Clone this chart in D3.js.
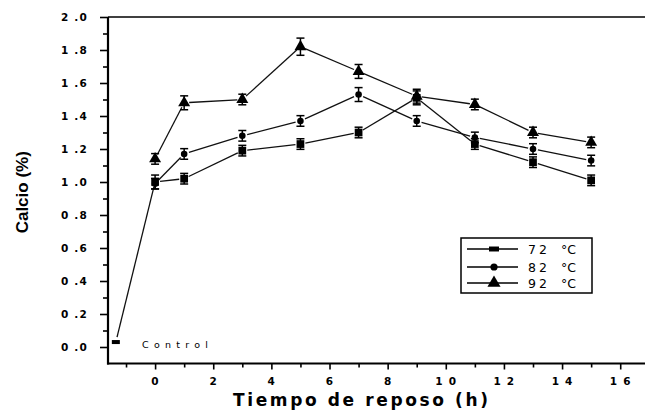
<!DOCTYPE html>
<html>
<head>
<meta charset="utf-8">
<script src="https://cdn.jsdelivr.net/npm/d3@7"></script>
<style>
  html, body { margin: 0; padding: 0; background: #fff; }
  svg { display: block; }
  text { fill: #000; }
</style>
</head>
<body>
<svg id="chart" width="645" height="411"></svg>
<script>
// Rest time (h) and calcium content (%) for three curd temperatures
const times = [0, 1, 3, 5, 7, 9, 11, 13, 15];
const calcio72 = [1.00, 1.02, 1.19, 1.23, 1.30, 1.51, 1.23, 1.12, 1.01];
const calcio82 = [0.99, 1.17, 1.28, 1.37, 1.53, 1.37, 1.27, 1.20, 1.13];
const calcio92 = [1.14, 1.48, 1.50, 1.82, 1.67, 1.52, 1.47, 1.30, 1.24];
const err72 = [0.03, 0.02, 0.02, 0.02, 0.02, 0.03, 0.02, 0.02, 0.02];
const err82 = [0.02, 0.02, 0.02, 0.02, 0.03, 0.02, 0.02, 0.02, 0.02];
const err92 = [0.02, 0.03, 0.02, 0.04, 0.03, 0.03, 0.02, 0.02, 0.02];
const seriesLabels = ["72", "82", "92"];
const controlTime = -1.35;
const controlValue = 0.03;
const controlLabel = "Control";
const yTicks = [0, 0.2, 0.4, 0.6, 0.8, 1.0, 1.2, 1.4, 1.6, 1.8, 2.0];
const yMinorTicks = [0.1, 0.3, 0.5, 0.7, 0.9, 1.1, 1.3, 1.5, 1.7, 1.9];
const xTicks = [0, 2, 4, 6, 8, 10, 12, 14, 16];
const xMinorTicks = [-1, 1, 3, 5, 7, 9, 11, 13, 15, 17];

const svg = d3.select("#chart");
const x = d3.scaleLinear().domain([-1.62, 17]).range([108, 108 + 18.62 * 29.07]);
const y = d3.scaleLinear().domain([-0.1, 2.0]).range([363.5, 17]);

const FONT = "'DejaVu Sans', sans-serif";

// --- axes ---
const yAxis = svg.append("g").attr("transform", `translate(${x.range()[0]},0)`);
yAxis.call(d3.axisLeft(y).tickValues(yTicks).tickSize(8).tickPadding(12)
  .tickFormat(d => d.toFixed(1).replace(".", " .")));
yAxis.append("g").call(d3.axisLeft(y).tickValues(yMinorTicks).tickSize(5).tickFormat(""))
  .select(".domain").remove();
yAxis.selectAll(".domain").remove();
yAxis.selectAll(".tick line").attr("stroke", "#000").attr("stroke-width", 1.6);
yAxis.selectAll(".tick text")
  .attr("font-family", FONT).attr("font-weight", "bold").attr("font-size", 10.5)
  .attr("letter-spacing", 1.2);

const xAxis = svg.append("g").attr("transform", `translate(0,${y(-0.1)})`);
xAxis.call(d3.axisBottom(x).tickValues(xTicks).tickSize(6).tickPadding(8)
  .tickFormat(d => String(d).split("").join(" ")));
xAxis.append("g").call(d3.axisBottom(x).tickValues(xMinorTicks).tickSize(4).tickFormat(""))
  .select(".domain").remove();
xAxis.selectAll(".domain").remove();
xAxis.selectAll(".tick line").attr("stroke", "#000").attr("stroke-width", 1.6);
xAxis.selectAll(".tick text")
  .attr("font-family", FONT).attr("font-weight", "bold").attr("font-size", 10.5)
  .attr("letter-spacing", 1.2);

// axis lines and top frame
svg.append("line").attr("x1", x.range()[0]).attr("x2", x.range()[0])
  .attr("y1", y(2.0)).attr("y2", y(-0.1) + 1).attr("stroke", "#000").attr("stroke-width", 2.2);
svg.append("line").attr("x1", x.range()[0] - 1).attr("x2", 645)
  .attr("y1", y(-0.1)).attr("y2", y(-0.1)).attr("stroke", "#000").attr("stroke-width", 2.2);
svg.append("line").attr("x1", x.range()[0]).attr("x2", 645)
  .attr("y1", y(2.0)).attr("y2", y(2.0)).attr("stroke", "#000").attr("stroke-width", 1.6);

// axis titles
svg.append("text").attr("transform", `translate(28,${(y(2.0) + y(-0.1)) / 2 + 2}) rotate(-90)`)
  .attr("text-anchor", "middle").attr("font-family", "'Liberation Sans', Arial, sans-serif")
  .attr("font-weight", "bold").attr("font-size", 17).text("Calcio (%)");
svg.append("text").attr("x", 233).attr("y", 406)
  .attr("font-family", FONT).attr("font-weight", "bold").attr("font-size", 17)
  .attr("textLength", 255).attr("lengthAdjust", "spacing")
  .text("Tiempo de reposo (h)");

// --- series ---
const symbols = [d3.symbolSquare, d3.symbolCircle, d3.symbolTriangle];
const symbolSizes = [60, 34, 62];
const series = [
  { label: seriesLabels[0], values: calcio72, errors: err72, sym: 0 },
  { label: seriesLabels[1], values: calcio82, errors: err82, sym: 1 },
  { label: seriesLabels[2], values: calcio92, errors: err92, sym: 2 }
];
series.forEach(s => {
  s.points = times.map((t, i) => ({ t, v: s.values[i], e: s.errors[i] }));
});
// the control sample starts the 72 °C curve
const controlPoint = { t: controlTime, v: controlValue, e: 0.01 };

const gap = 5;
function gappedSegments(points) {
  const segs = [];
  for (let i = 0; i < points.length - 1; i++) {
    const x1 = x(points[i].t), y1 = y(points[i].v);
    const x2 = x(points[i + 1].t), y2 = y(points[i + 1].v);
    const len = Math.hypot(x2 - x1, y2 - y1);
    const ux = (x2 - x1) / len, uy = (y2 - y1) / len;
    segs.push([x1 + ux * gap, y1 + uy * gap, x2 - ux * gap, y2 - uy * gap]);
  }
  return segs;
}

const lineLayer = svg.append("g");
series.forEach((s, k) => {
  const pts = k === 0 ? [controlPoint].concat(s.points) : s.points;
  lineLayer.selectAll(null).data(gappedSegments(pts)).enter().append("line")
    .attr("x1", d => d[0]).attr("y1", d => d[1]).attr("x2", d => d[2]).attr("y2", d => d[3])
    .attr("stroke", "#111").attr("stroke-width", 1.3);
});

const errLayer = svg.append("g").attr("stroke", "#000").attr("stroke-width", 1.5);
const markLayer = svg.append("g");
function drawPoint(p, symIdx) {
  const cx = x(p.t), top = y(p.v + p.e), bot = y(p.v - p.e);
  errLayer.append("line").attr("x1", cx).attr("x2", cx).attr("y1", top - 2).attr("y2", bot + 2);
  errLayer.append("line").attr("x1", cx - 4).attr("x2", cx + 4).attr("y1", top - 2).attr("y2", top - 2);
  errLayer.append("line").attr("x1", cx - 4).attr("x2", cx + 4).attr("y1", bot + 2).attr("y2", bot + 2);
  markLayer.append("path")
    .attr("d", d3.symbol().type(symbols[symIdx]).size(symbolSizes[symIdx])())
    .attr("transform", `translate(${cx},${y(p.v)})`)
    .attr("fill", "#000");
}
series.forEach(s => s.points.forEach(p => drawPoint(p, s.sym)));
// control marker (small bar)
markLayer.append("rect")
  .attr("x", x(controlPoint.t) - 4).attr("y", y(controlPoint.v) - 2)
  .attr("width", 8).attr("height", 4).attr("fill", "#000");

svg.append("text").attr("x", 142).attr("y", 348)
  .attr("font-family", FONT).attr("font-size", 9.5)
  .attr("textLength", 66).attr("lengthAdjust", "spacing")
  .text(controlLabel);

// --- legend ---
const legend = svg.append("g").attr("transform", "translate(461,238)");
legend.append("rect").attr("width", 131).attr("height", 55)
  .attr("fill", "#fff").attr("stroke", "#000").attr("stroke-width", 1.5);
const rowY = [11, 29, 45];
series.forEach((s, i) => {
  const row = legend.append("g").attr("transform", `translate(0,${rowY[i]})`);
  row.append("line").attr("x1", 6).attr("x2", 57).attr("stroke", "#000").attr("stroke-width", 1.3);
  row.append("path")
    .attr("d", d3.symbol().type(symbols[s.sym]).size(s.sym === 0 ? 44 : symbolSizes[s.sym] * 1.2)())
    .attr("transform", s.sym === 0 ? "translate(33,0) scale(1.5,0.75)" : "translate(33,0)")
    .attr("fill", "#000");
  const t = row.append("text").attr("y", 5)
    .attr("font-family", FONT).attr("font-size", 12.5);
  t.append("tspan").attr("x", 67).attr("letter-spacing", 3).text(s.label);
  t.append("tspan").attr("x", 100).text("°C");
});
</script>
</body>
</html>
